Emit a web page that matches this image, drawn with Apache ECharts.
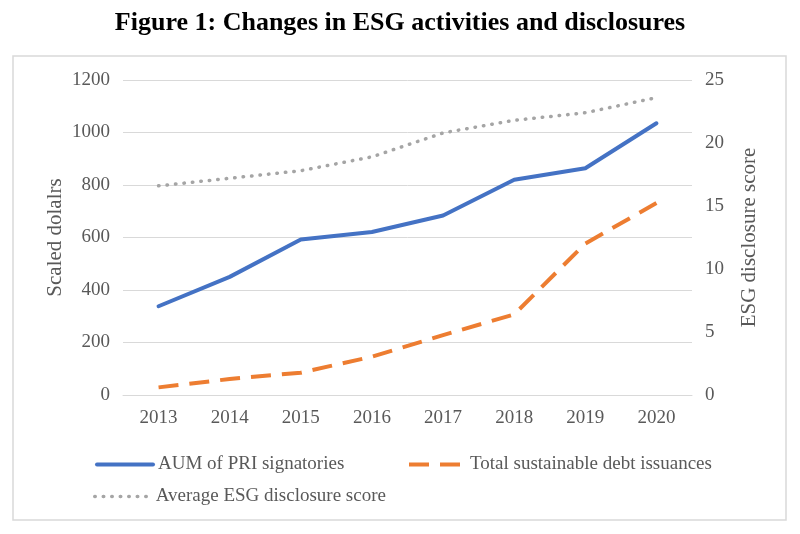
<!DOCTYPE html>
<html>
<head>
<meta charset="utf-8">
<script src="https://cdn.jsdelivr.net/npm/echarts@6/dist/echarts.min.js"></script>
<style>html,body{margin:0;padding:0;background:#fff;}#c{width:800px;height:534px;}</style>
</head>
<body>
<div id="c"></div>
<script>
const years = ['2013','2014','2015','2016','2017','2018','2019','2020'];
const aumPRI = [338, 450, 592, 621, 684, 820, 864, 1035];
const sustainableDebt = [29, 61, 85, 146, 228, 307, 577, 731];
const esgScore = [16.6, 17.2, 17.8, 18.9, 20.8, 21.8, 22.4, 23.6];
const leftTicks = {min: 0, max: 1200, interval: 200};
const rightTicks = {min: 0, max: 25, interval: 5};

const FONT = '"Liberation Serif", "Times New Roman", serif';
const TXT = '#595959';
const chart = echarts.init(document.getElementById('c'), null, {renderer: 'canvas'});
const legendText = {fontFamily: FONT, fontSize: 19, color: TXT};
const legendCommon = {itemWidth: 56, itemHeight: 14, itemGap: 4, textStyle: legendText, itemStyle: {opacity: 0}};
chart.setOption({
  animation: false,
  backgroundColor: '#fff',
  title: {
    text: 'Figure 1: Changes in ESG activities and disclosures',
    left: 'center', top: 5,
    textStyle: {fontFamily: FONT, fontSize: 26, fontWeight: 'bold', color: '#000'}
  },
  graphic: [{
    type: 'rect', shape: {x: 13, y: 56, width: 773, height: 464},
    style: {fill: 'none', stroke: '#d9d9d9', lineWidth: 1.5}, silent: true
  }],
  legend: [
    Object.assign({data: ['AUM of PRI signatories'], left: 90, top: 450, lineStyle: {width: 4}}, legendCommon),
    Object.assign({data: ['Total sustainable debt issuances'], left: 402, top: 450, lineStyle: {width: 4}}, legendCommon),
    Object.assign({data: ['Average ESG disclosure score'], left: 88, top: 482, lineStyle: {width: 3.5}}, legendCommon)
  ],
  grid: {left: 123, right: 108, top: 80, bottom: 139},
  xAxis: {
    type: 'category', data: years, boundaryGap: true,
    axisLine: {show: true, lineStyle: {color: '#d9d9d9', width: 1}},
    axisTick: {show: false},
    axisLabel: {fontFamily: FONT, fontSize: 19, color: TXT, margin: 14}
  },
  yAxis: [{
    type: 'value', min: leftTicks.min, max: leftTicks.max, interval: leftTicks.interval,
    name: 'Scaled dolalrs', nameLocation: 'middle', nameGap: 57, nameRotate: 90, nameMoveOverlap: false,
    nameTextStyle: {fontFamily: FONT, fontSize: 21, color: TXT},
    axisLine: {show: false}, axisTick: {show: false},
    axisLabel: {fontFamily: FONT, fontSize: 19, color: TXT, margin: 13, formatter: v => String(v)},
    splitLine: {lineStyle: {color: '#d9d9d9', width: 1}}
  }, {
    type: 'value', min: rightTicks.min, max: rightTicks.max, interval: rightTicks.interval,
    name: 'ESG disclosure score', nameLocation: 'middle', nameGap: 47, nameRotate: 90, nameMoveOverlap: false,
    nameTextStyle: {fontFamily: FONT, fontSize: 21, color: TXT},
    axisLine: {show: false}, axisTick: {show: false},
    axisLabel: {fontFamily: FONT, fontSize: 19, color: TXT, margin: 13},
    splitLine: {show: false}
  }],
  series: [{
    name: 'AUM of PRI signatories', type: 'line', yAxisIndex: 0, data: aumPRI,
    symbol: 'none', itemStyle: {color: '#4472C4'},
    lineStyle: {color: '#4472C4', width: 4, cap: 'round', join: 'round'}
  }, {
    name: 'Total sustainable debt issuances', type: 'line', yAxisIndex: 0, data: sustainableDebt,
    symbol: 'none', itemStyle: {color: '#ED7D31'},
    lineStyle: {color: '#ED7D31', width: 4, type: [20, 11]}
  }, {
    name: 'Average ESG disclosure score', type: 'line', yAxisIndex: 1, data: esgScore,
    symbol: 'none', itemStyle: {color: '#A5A5A5'},
    lineStyle: {color: '#A5A5A5', width: 3.5, cap: 'round', type: [0.5, 8]}
  }]
});
</script>
</body>
</html>
